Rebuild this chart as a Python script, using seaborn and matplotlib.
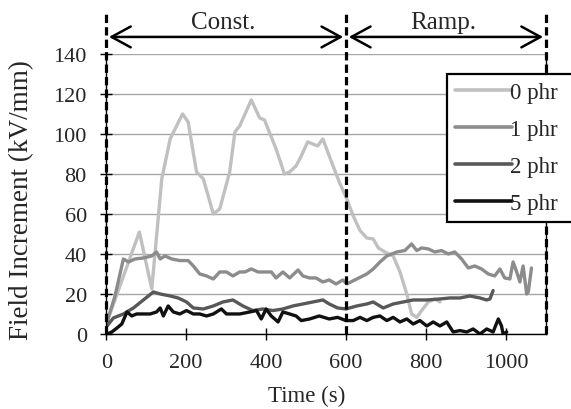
import pandas as pd
import seaborn as sns
import matplotlib
matplotlib.use("Agg")
import matplotlib.pyplot as plt

# values
t_0phr = [2, 83, 114, 139, 160, 191, 205, 226, 243, 268, 284, 309, 322, 334, 363, 384, 396,
          425, 446, 459, 475, 488, 504, 529, 542, 558, 583, 602, 618, 635, 652, 668, 681,
          697, 718, 735, 752, 764, 777, 789, 806, 822, 835]
v_0phr = [6, 51, 22.5, 77.5, 97.5, 110, 106, 81, 77.5, 60, 62.5, 81, 101, 104, 117, 108, 107,
          92.5, 80, 81, 84, 89, 96, 94, 97.5, 89, 76, 67.5, 59, 51.7, 48, 47.5, 43,
          41, 39, 31, 20, 10, 8.3, 11.7, 16, 17.5, 16]

t_1phr = [2, 22, 43, 56, 72, 93, 114, 126, 135, 147, 164, 184, 205, 218, 234, 251, 268, 284,
          301, 317, 334, 347, 363, 380, 396, 413, 425, 442, 459, 480, 492, 509, 525, 542,
          558, 575, 592, 602, 627, 652, 668, 685, 702, 727, 747, 764, 777, 789, 806, 822,
          839, 856, 872, 889, 906, 922, 939, 956, 972, 985, 997, 1010, 1018, 1027, 1035,
          1043, 1052, 1056, 1064]
v_1phr = [6, 19, 37.5, 36, 37.5, 38, 39, 41, 37.5, 39, 37.5, 36.7, 36.7, 34, 30, 29, 27.5, 31,
          31, 29, 31, 31, 32.5, 31, 31, 31, 28, 31, 28, 32, 29, 28, 28, 26,
          27, 25, 27, 25, 27.5, 30, 32.5, 36, 39, 41, 41.7, 45, 41.7, 43, 42.5, 41,
          41.7, 40, 41, 37.5, 33, 34, 32.5, 30, 29, 32.5, 28, 27.5, 36, 31, 26,
          34, 20, 21, 33]

t_2phr = [2, 18, 43, 68, 93, 118, 135, 160, 180, 201, 218, 243, 268, 292, 317, 342, 367, 392,
          417, 442, 467, 492, 517, 542, 558, 579, 600, 627, 652, 668, 693, 718, 743, 768,
          802, 835, 860, 885, 910, 935, 952, 960, 968]
v_2phr = [4, 8, 10, 13, 17, 21, 20, 19, 18, 16, 13, 12.5, 14, 16, 17, 14, 11.7, 12.5,
          11.7, 12.5, 14, 15, 16, 17, 15, 13, 12.5, 14, 15, 16, 13, 15, 16, 17,
          17, 17.5, 18, 18, 19, 18, 17, 17.5, 21.7]

t_5phr = [2, 14, 27, 39, 52, 64, 76, 93, 110, 126, 135, 143, 155, 168, 184, 201, 218, 234,
          251, 268, 288, 301, 317, 334, 359, 376, 388, 400, 413, 430, 442, 459, 475, 488,
          509, 533, 558, 579, 600, 618, 635, 652, 668, 685, 702, 718, 735, 752, 768, 785,
          802, 818, 835, 852, 868, 885, 902, 918, 935, 952, 968, 981, 989, 993, 1002]
v_5phr = [0, 1, 3, 5, 11, 9, 10, 10, 10, 11, 13, 9, 14, 11, 10, 11.7, 10, 10,
          9, 10, 12.5, 10, 10, 10, 11, 11.7, 7.5, 12.5, 9, 6, 11, 10, 9, 6.7,
          7.5, 9, 7.5, 8.3, 6.7, 6.7, 8.3, 6.7, 8.3, 9, 6.7, 8.3, 6, 7.5, 5, 6.7,
          4, 6, 4, 6, 1, 1.7, 1, 2.5, 0, 2.5, 1, 7.5, 4, 0, 1]

series_names = ["0 phr", "1 phr", "2 phr", "5 phr"]
series_colors = ["#c0c0c0", "#8c8c8c", "#585858", "#111111"]

phase_bounds = [0, 600, 1100]
phase_names = ["Const.", "Ramp."]

frames = []
for name, t, v in zip(series_names,
                      [t_0phr, t_1phr, t_2phr, t_5phr],
                      [v_0phr, v_1phr, v_2phr, v_5phr]):
    frames.append(pd.DataFrame({"Time (s)": t, "Field": v, "series": name}))
df = pd.concat(frames, ignore_index=True)

sns.set_theme(style="white")
plt.rcParams["font.family"] = ["Liberation Serif", "DejaVu Serif"]

fig = plt.figure(figsize=(5.71, 4.10), dpi=100)
ax = fig.add_axes([0.186, 0.183, 0.770, 0.683])

sns.lineplot(data=df, x="Time (s)", y="Field", hue="series", hue_order=series_names,
             palette=dict(zip(series_names, series_colors)), estimator=None,
             sort=False, linewidth=2.4, ax=ax)

ax.set_xlim(0, 1100)
ax.set_ylim(0, 140)
ax.set_xticks([0, 200, 400, 600, 800, 1000])
ax.set_yticks(range(0, 141, 20))
ax.yaxis.grid(True, color="#a6a6a6", linewidth=1.0)
ax.xaxis.grid(False)
ax.tick_params(axis="both", direction="inout", length=8, width=1.0, color="black",
               labelsize=16, bottom=True, left=True)
ax.tick_params(axis="x", pad=10)
ax.tick_params(axis="y", pad=10)
ax.spines["top"].set_visible(False)
for side in ["bottom", "left", "right"]:
    ax.spines[side].set_color("black")
    ax.spines[side].set_linewidth(1.0)

ax.set_xlabel("Time (s)", fontsize=16.5)
ax.set_ylabel("Field Increment (kV/mm)", fontsize=19.5)
ax.xaxis.set_label_coords(0.455, -0.18)
ax.yaxis.set_label_coords(-0.165, 0.48)

# phase boundaries and labels above the plot
for xv in phase_bounds:
    ax.plot([xv, xv], [0, 161.5], color="black", linestyle=(0, (2.6, 1.3)),
            linewidth=2.3, clip_on=False, zorder=5)
for i, name in enumerate(phase_names):
    x0, x1 = phase_bounds[i], phase_bounds[i + 1]
    ax.annotate("", xy=(x1, 148.5), xytext=(x0, 148.5), annotation_clip=False,
                arrowprops=dict(arrowstyle="<->,head_length=0.55,head_width=0.3",
                                color="black", lw=1.8, mutation_scale=25,
                                shrinkA=2, shrinkB=2))
    ax.text((x0 + x1) / 2 - 8, 156, name, ha="center", va="center", fontsize=18,
            clip_on=False)

handles, labels = ax.get_legend_handles_labels()
leg = ax.legend(handles, labels, loc="upper left",
                bbox_to_anchor=(0.783, 0.817 - 0.361, 0.26, 0.361),
                bbox_transform=fig.transFigure, mode="expand", fontsize=16.5,
                frameon=True, fancybox=False, edgecolor="black", framealpha=1.0,
                handlelength=2.5, handletextpad=-0.1, labelspacing=0.7,
                borderpad=0.35, borderaxespad=0)
leg.get_frame().set_linewidth(1.6)
for line in leg.get_lines():
    line.set_linewidth(2.6)

fig.savefig("out.png", dpi=100)
